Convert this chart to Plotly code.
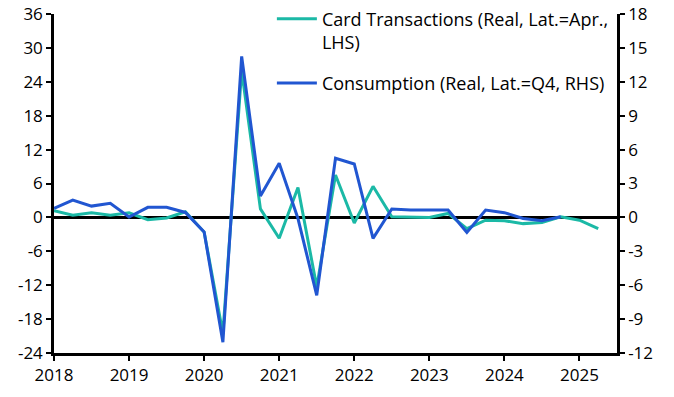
import plotly.graph_objects as go

quarters = [f"{y}Q{q}" for y in range(2018, 2026) for q in range(1, 5)][:30]

card_lhs = [1.2, 0.4, 0.8, 0.4, 0.8, -0.4, -0.1, 1.0,
            -2.6, -20.5, 26.0, 1.5, -3.7, 5.3, -12.3, 7.5,
            -1.0, 5.5, 0.1, 0.0, 0.0, 0.7, -2.0, -0.5,
            -0.6, -1.1, -0.9, 0.1, -0.5, -2.0]

consumption_rhs = [0.8, 1.53, 1.0, 1.24, 0.03, 0.89, 0.89, 0.44,
                   -1.28, -11.05, 14.25, 1.89, 4.79, -0.1, -6.9, 5.23,
                   4.73, -1.86, 0.74, 0.65, 0.65, 0.65, -1.33, 0.65,
                   0.42, -0.1, -0.3, 0.05]

x_years = [2018, 2019, 2020, 2021, 2022, 2023, 2024, 2025]
lhs_ticks = [-24, -18, -12, -6, 0, 6, 12, 18, 24, 30, 36]
rhs_ticks = [-12, -9, -6, -3, 0, 3, 6, 9, 12, 15, 18]

card_name = "Card Transactions (Real, Lat.=Apr.,<br>LHS)"
cons_name = "Consumption (Real, Lat.=Q4, RHS)"


def qpos(label):
    y, q = label.split("Q")
    return int(y) + (int(q) - 1) / 4


xc = [qpos(q) for q in quarters[:len(card_lhs)]]
xs = [qpos(q) for q in quarters[:len(consumption_rhs)]]

TEAL = "#1BB9A6"
BLUE = "#2156D1"
FONT = "Open Sans"
TICK_SIZE = 17
LEG_SIZE = 18

fig = go.Figure()
fig.add_trace(go.Scatter(x=xc, y=card_lhs, mode="lines", name=card_name,
                         line=dict(color=TEAL, width=3), legend="legend"))
fig.add_trace(go.Scatter(x=xs, y=consumption_rhs, mode="lines", name=cons_name,
                         line=dict(color=BLUE, width=3), yaxis="y2",
                         legend="legend2"))


def fmt(v):
    return str(v).replace("\u2212", "-")


axis_common = dict(showgrid=False, showline=True, linecolor="black",
                   linewidth=2.5, ticks="outside", ticklen=5, tickwidth=2,
                   tickcolor="black", tickfont=dict(size=TICK_SIZE))

fig.update_layout(
    width=674, height=397,
    margin=dict(l=54, r=57, t=14, b=44, autoexpand=False),
    paper_bgcolor="white", plot_bgcolor="white",
    font=dict(family=FONT, size=TICK_SIZE, color="black"),
    showlegend=True,
    xaxis=dict(range=[2018, 2025.5], tickvals=x_years,
               ticktext=[str(v) for v in x_years], zeroline=False,
               **axis_common),
    yaxis=dict(range=[-24, 36], tickvals=lhs_ticks,
               ticktext=[fmt(v) for v in lhs_ticks],
               zeroline=True, zerolinecolor="black", zerolinewidth=2.5,
               **axis_common),
    yaxis2=dict(range=[-12, 18], tickvals=rhs_ticks,
                ticktext=[fmt(v) for v in rhs_ticks],
                overlaying="y", side="right", zeroline=False,
                **axis_common),
    legend=dict(x=0.387, y=1.04, xanchor="left", yanchor="top",
                bgcolor="rgba(0,0,0,0)", valign="top",
                font=dict(family=FONT, size=LEG_SIZE, color="black"),
                itemwidth=40),
    legend2=dict(x=0.387, y=0.85, xanchor="left", yanchor="top",
                 bgcolor="rgba(0,0,0,0)", valign="top",
                 font=dict(family=FONT, size=LEG_SIZE, color="black"),
                 itemwidth=40),
)

fig.write_html("out.html", config={"displayModeBar": False},
               post_script="document.body.style.margin='0px';")
